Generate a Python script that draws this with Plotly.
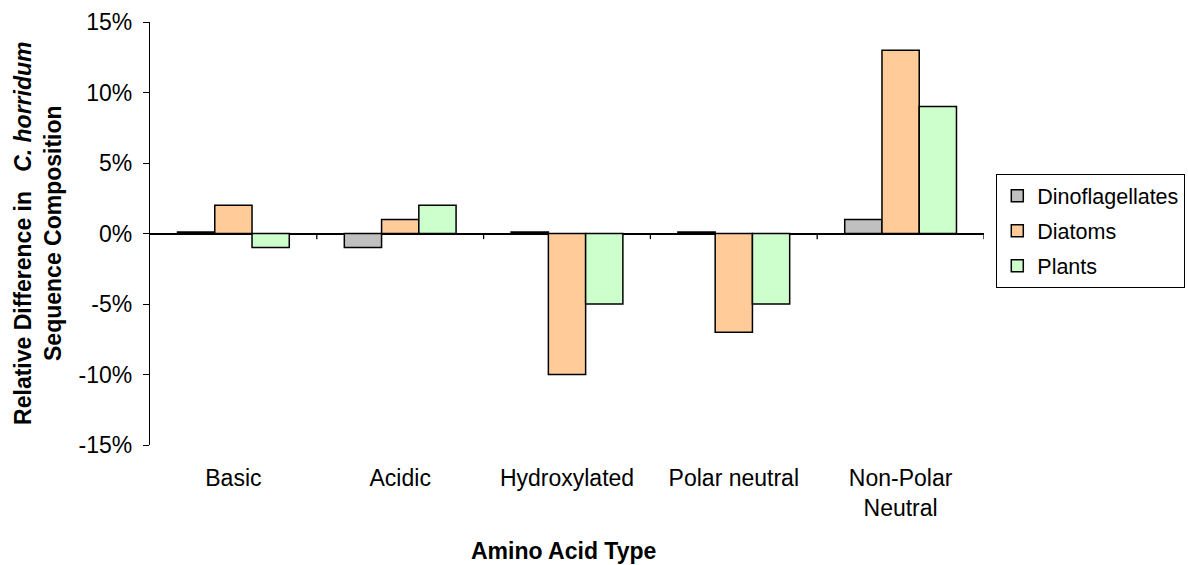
import plotly.graph_objects as go

categories = ["Basic", "Acidic", "Hydroxylated", "Polar neutral", "Non-Polar<br>Neutral"]
dinoflagellates = [0.1, -1.0, 0.1, 0.1, 1.0]
diatoms = [2.0, 1.0, -10.0, -7.0, 13.0]
plants = [-1.0, 2.0, -5.0, -5.0, 9.0]
y_ticks = [-15, -10, -5, 0, 5, 10, 15]
y_tick_labels = ["-15%", "-10%", "-5%", "0%", "5%", "10%", "15%"]

series = [
    ("Dinoflagellates", dinoflagellates, "#C0C0C0"),
    ("Diatoms", diatoms, "#FFCC99"),
    ("Plants", plants, "#CCFFCC"),
]

FONT = "Liberation Sans, Arial, sans-serif"
FS = 23
xs = list(range(len(categories)))

fig = go.Figure()
for name, vals, color in series:
    fig.add_trace(go.Bar(
        x=xs, y=vals, name=name, legendgroup=name,
        marker=dict(color=color, line=dict(color="black", width=1.5)),
    ))

# category boundary tick marks hanging from the zero line
for i in range(1, len(categories) + 1):
    fig.add_shape(type="line", xref="x", yref="y", x0=i - 0.5, x1=i - 0.5,
                  y0=0, y1=-0.4, line=dict(color="black", width=1.3))

fig.update_layout(
    width=1188, height=565,
    margin=dict(l=150, r=204, t=22, b=120, autoexpand=False),
    plot_bgcolor="white", paper_bgcolor="white",
    font=dict(family=FONT, size=FS, color="black"),
    barmode="group", bargap=0.33, bargroupgap=0,
    showlegend=True,
    legend=dict(
        x=1.241, y=0.6407, xanchor="right", yanchor="top",
        bordercolor="black", borderwidth=1.3, bgcolor="white",
        font=dict(family=FONT, size=21.5, color="black"),
        traceorder="grouped", tracegroupgap=4, itemwidth=30,
    ),
    xaxis=dict(
        range=[-0.5, len(categories) - 0.5],
        tickvals=xs, ticktext=categories,
        showline=False, showgrid=False, zeroline=False, ticks="",
        ticklabelstandoff=17,
        tickfont=dict(family=FONT, size=FS, color="black"),
    ),
    yaxis=dict(
        range=[-15, 15], tickvals=y_ticks, ticktext=y_tick_labels,
        showline=True, linecolor="black", linewidth=1.3,
        ticks="outside", ticklen=6, tickcolor="black", tickwidth=1.3,
        ticklabelstandoff=6,
        showgrid=False, zeroline=True, zerolinecolor="black", zerolinewidth=1.5,
        tickfont=dict(family=FONT, size=FS, color="black"),
    ),
    annotations=[
        dict(text="<b>Relative Difference in &nbsp;&nbsp;<i>C. horridum</i><br>Sequence Composition</b>",
             xref="paper", yref="paper", x=-0.135, y=0.5, xanchor="center", yanchor="middle",
             textangle=-90, showarrow=False,
             font=dict(family=FONT, size=FS, color="black")),
        dict(text="<b>Amino Acid Type</b>",
             xref="paper", yref="paper", x=0.4964, y=-0.2506, xanchor="center", yanchor="middle",
             showarrow=False, font=dict(family=FONT, size=FS, color="black")),
    ],
)

fig.write_html("out.html")
